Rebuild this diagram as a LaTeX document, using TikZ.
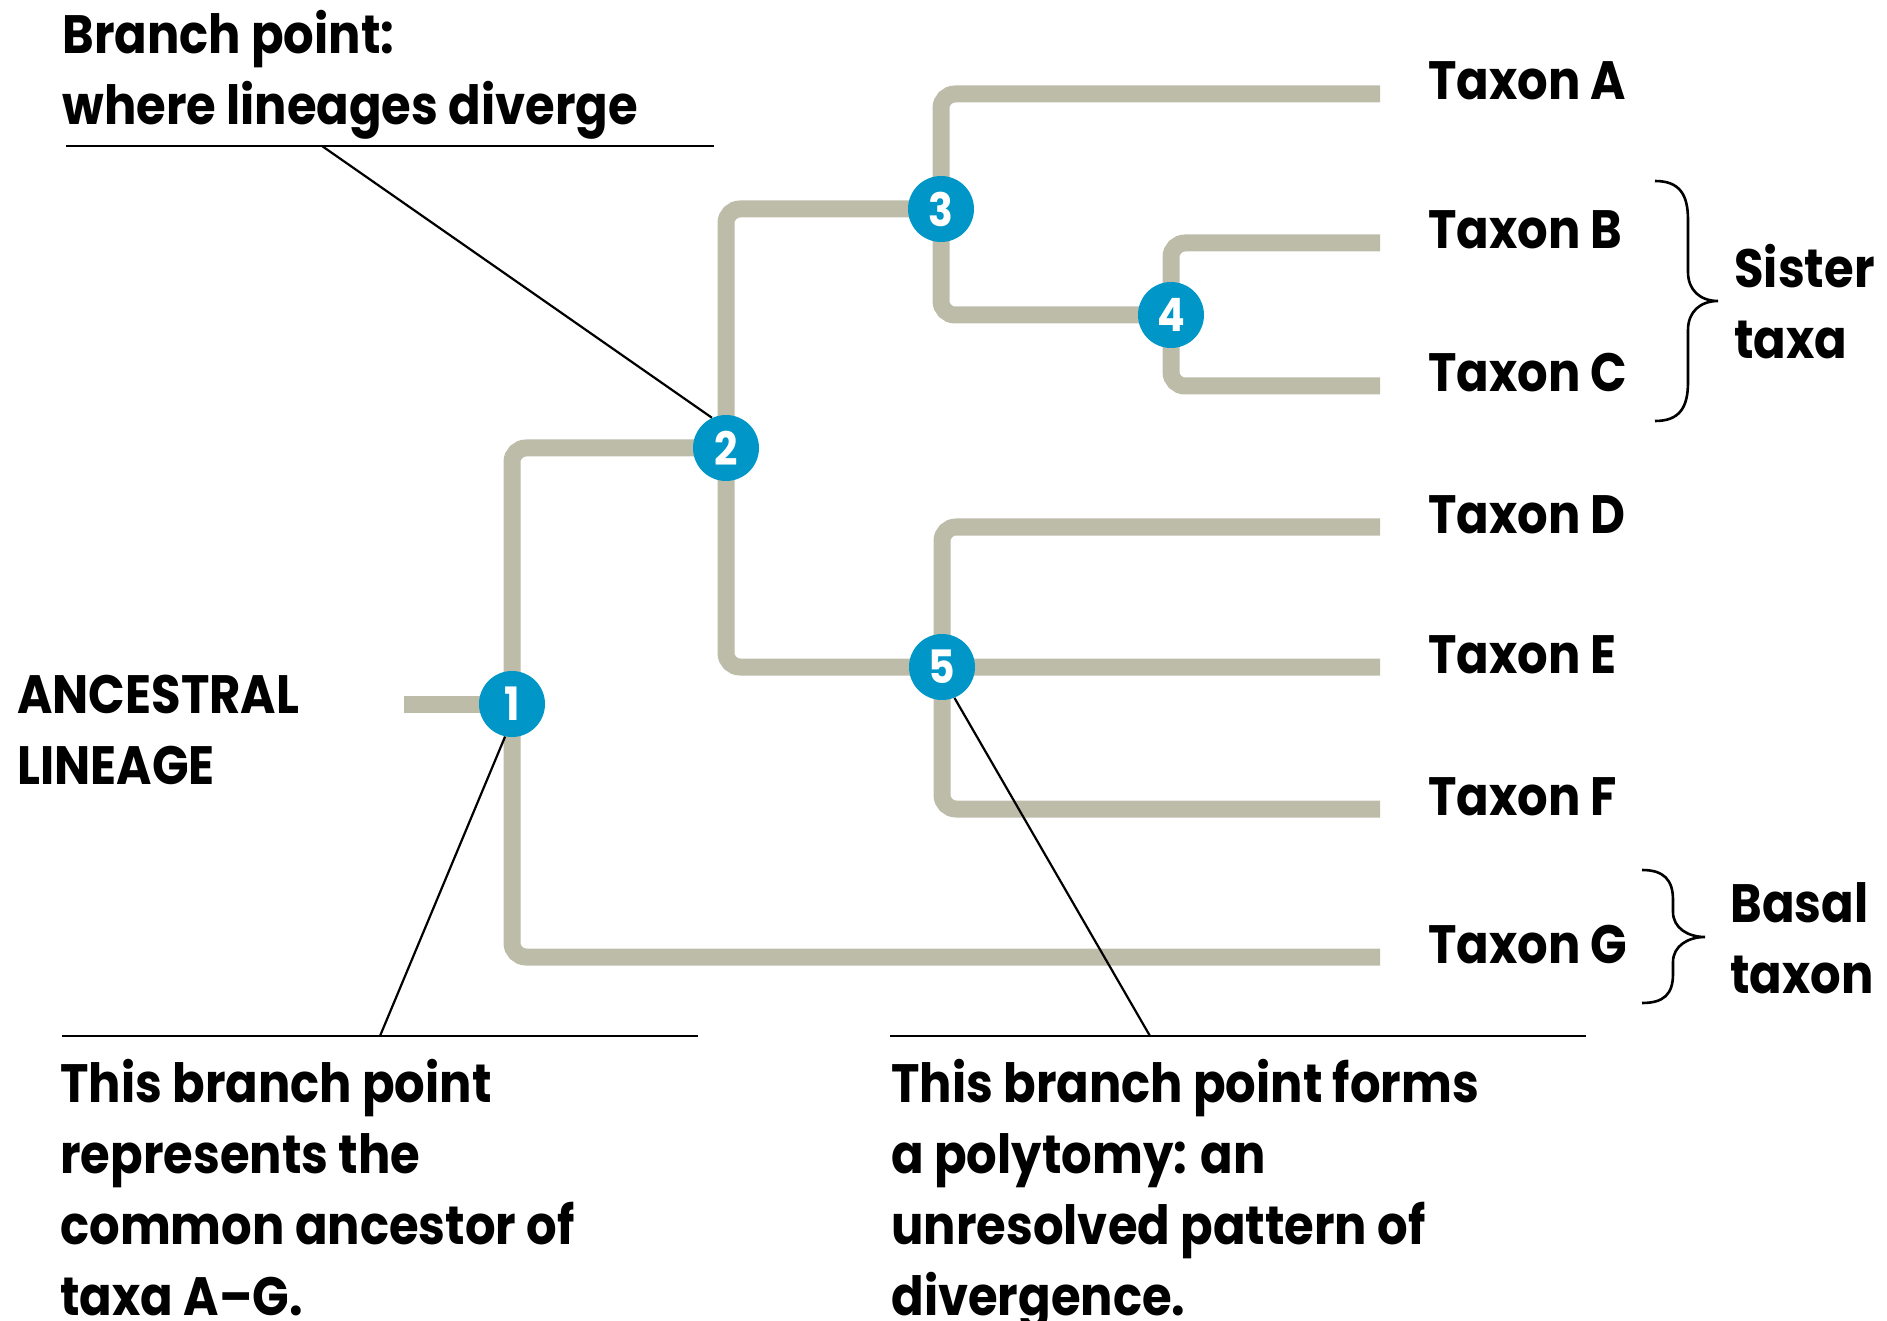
\documentclass[tikz,border=0pt]{standalone}
\usepackage{fontspec}
\setmainfont{Poppins}[FakeStretch=0.89]
\usetikzlibrary{positioning,backgrounds}

\definecolor{branchgray}{RGB}{189,188,169}
\definecolor{nodeblue}{RGB}{0,150,199}

\begin{document}
\begin{tikzpicture}[x=0.5pt, y=-0.5pt,
    every node/.style={font=\fontsize{27}{35.5}\selectfont\bfseries, inner sep=0pt},
    bpoint/.style={circle, fill=nodeblue, text=white, minimum size=33pt, font=\fontsize{23}{23}\selectfont\bfseries},
    taxon/.style={yshift=-3pt},
    note/.style={anchor=north west, align=left},
    branch/.style={line width=8.5pt, draw=branchgray, rounded corners=7pt},
    leader/.style={line width=1.1pt},
    bracket/.style={line width=1.3pt}]
    \useasboundingbox (0,0) rectangle (1887,1321);

    % branch points
    \node[bpoint] (n1) at (512,704) {1};
    \node[bpoint] (n2) at (726,448) {2};
    \node[bpoint] (n3) at (941,209) {3};
    \node[bpoint] (n4) at (1171,315) {4};
    \node[bpoint] (n5) at (942,667) {5};

    % tips of the tree
    \coordinate (root) at (404,704);
    \coordinate (eA) at (1380,94);
    \coordinate (eB) at (1380,243);
    \coordinate (eC) at (1380,386);
    \coordinate (eD) at (1380,527);
    \coordinate (eE) at (1380,667);
    \coordinate (eF) at (1380,809);
    \coordinate (eG) at (1380,957);

    \node[taxon, base right=24pt of eA] (tA) {Taxon A};
    \node[taxon, base right=24pt of eB] (tB) {Taxon B};
    \node[taxon, base right=24pt of eC] (tC) {Taxon C};
    \node[taxon, base right=24pt of eD] (tD) {Taxon D};
    \node[taxon, base right=24pt of eE] (tE) {Taxon E};
    \node[taxon, base right=24pt of eF] (tF) {Taxon F};
    \node[taxon, base right=24pt of eG] (tG) {Taxon G};

    \begin{scope}[on background layer]
        \draw[branch] (root) -- (n1.center);
        \draw[branch] (n2.center) -| (n1.center) |- (eG);
        \draw[branch] (n3.center) -| (n2.center) |- (n5.center) -- (eE);
        \draw[branch] (eA) -| (n3.center) |- (n4.center);
        \draw[branch] (eB) -| (n4.center) |- (eC);
        \draw[branch] (eD) -| (n5.center) |- (eF);
    \end{scope}

    \node[note] (anc) at (17,675) {ANCESTRAL\\LINEAGE};

    % callouts
    \node[note] (bpnote) at (62,10) {Branch point:\\where lineages diverge};
    \coordinate (kA) at (322,146);
    \draw[leader] (66,146) -- (714,146);
    \draw[leader] (kA) -- (n2.115);

    \node[note] (rootnote) at (60,1059) {This branch point\\represents the\\common ancestor of\\taxa A--G.};
    \coordinate (kB) at (380,1036);
    \draw[leader] (62,1036) -- (698,1036);
    \draw[leader] (kB) -- (n1.258);

    \node[note] (polynote) at (891,1059) {This branch point forms\\a polytomy: an\\unresolved pattern of\\divergence.};
    \coordinate (kC) at (1150,1036);
    \draw[leader] (890,1036) -- (1586,1036);
    \draw[leader] (kC) -- (n5.292);

    % braces
    \draw[bracket] (1655,181) .. controls (1680,181) and (1688,195) .. (1688,220)
        -- (1688,272) .. controls (1688,290) and (1700,301) .. (1718,301)
        .. controls (1700,301) and (1688,312) .. (1688,330)
        -- (1688,382) .. controls (1688,407) and (1680,421) .. (1655,421);
    \node[note] (sister) at (1734,244) {Sister\\taxa};

    \draw[bracket] (1642,870) .. controls (1664,870) and (1673,880) .. (1673,900)
        -- (1673,912) .. controls (1673,928) and (1688,937) .. (1705,937)
        .. controls (1688,937) and (1673,946) .. (1673,962)
        -- (1673,974) .. controls (1673,994) and (1664,1003) .. (1642,1003);
    \node[note] (basal) at (1730,882) {Basal\\taxon};
\end{tikzpicture}
\end{document}
